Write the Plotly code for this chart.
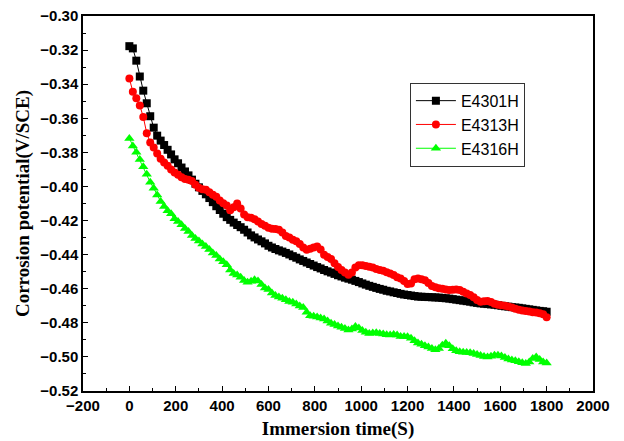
import plotly.graph_objects as go

time_s = [i * 15 for i in range(121)]

e4301h = [
-0.3177,-0.3190,-0.3262,-0.3355,-0.3438,-0.3512,-0.3588,-0.3655,-0.3702,-0.3731,
-0.3757,-0.3785,-0.3812,-0.3841,-0.3864,-0.3889,-0.3912,-0.3935,-0.3960,-0.3984,
-0.4005,-0.4026,-0.4046,-0.4068,-0.4092,-0.4116,-0.4138,-0.4160,-0.4180,-0.4196,
-0.4212,-0.4226,-0.4239,-0.4254,-0.4270,-0.4287,-0.4299,-0.4311,-0.4322,-0.4334,
-0.4348,-0.4358,-0.4367,-0.4375,-0.4382,-0.4390,-0.4399,-0.4409,-0.4418,-0.4428,
-0.4437,-0.4446,-0.4455,-0.4464,-0.4473,-0.4481,-0.4490,-0.4498,-0.4505,-0.4513,
-0.4521,-0.4528,-0.4535,-0.4541,-0.4547,-0.4554,-0.4561,-0.4569,-0.4576,-0.4583,
-0.4589,-0.4595,-0.4601,-0.4606,-0.4612,-0.4616,-0.4621,-0.4625,-0.4630,-0.4634,
-0.4637,-0.4640,-0.4643,-0.4646,-0.4647,-0.4648,-0.4649,-0.4650,-0.4651,-0.4652,
-0.4654,-0.4656,-0.4658,-0.4661,-0.4664,-0.4667,-0.4670,-0.4673,-0.4676,-0.4680,
-0.4683,-0.4686,-0.4688,-0.4690,-0.4692,-0.4694,-0.4697,-0.4700,-0.4703,-0.4705,
-0.4708,-0.4710,-0.4712,-0.4715,-0.4718,-0.4721,-0.4724,-0.4727,-0.4730,-0.4732,
-0.4735]

e4313h = [
-0.3366,-0.3445,-0.3482,-0.3525,-0.3592,-0.3688,-0.3742,-0.3772,-0.3806,-0.3838,
-0.3860,-0.3878,-0.3900,-0.3918,-0.3932,-0.3946,-0.3956,-0.3960,-0.3968,-0.3990,
-0.4008,-0.4016,-0.4020,-0.4034,-0.4048,-0.4060,-0.4082,-0.4098,-0.4112,-0.4140,
-0.4122,-0.4100,-0.4130,-0.4165,-0.4180,-0.4184,-0.4192,-0.4205,-0.4220,-0.4230,
-0.4242,-0.4248,-0.4250,-0.4254,-0.4270,-0.4290,-0.4300,-0.4312,-0.4322,-0.4338,
-0.4358,-0.4372,-0.4366,-0.4358,-0.4352,-0.4370,-0.4400,-0.4414,-0.4426,-0.4450,
-0.4472,-0.4490,-0.4505,-0.4518,-0.4505,-0.4475,-0.4462,-0.4462,-0.4466,-0.4471,
-0.4476,-0.4484,-0.4490,-0.4495,-0.4503,-0.4510,-0.4520,-0.4532,-0.4540,-0.4555,
-0.4572,-0.4570,-0.4545,-0.4540,-0.4544,-0.4550,-0.4566,-0.4584,-0.4592,-0.4597,
-0.4600,-0.4604,-0.4607,-0.4606,-0.4604,-0.4608,-0.4618,-0.4628,-0.4637,-0.4650,
-0.4666,-0.4676,-0.4674,-0.4672,-0.4678,-0.4688,-0.4694,-0.4697,-0.4700,-0.4704,
-0.4710,-0.4717,-0.4724,-0.4727,-0.4730,-0.4734,-0.4738,-0.4740,-0.4744,-0.4750,
-0.4768]

e4316h = [
-0.3718,-0.3762,-0.3800,-0.3842,-0.3885,-0.3928,-0.3975,-0.4010,-0.4050,-0.4088,
-0.4118,-0.4142,-0.4160,-0.4190,-0.4205,-0.4225,-0.4246,-0.4264,-0.4288,-0.4305,
-0.4320,-0.4338,-0.4352,-0.4370,-0.4390,-0.4405,-0.4425,-0.4442,-0.4460,-0.4490,
-0.4510,-0.4520,-0.4532,-0.4552,-0.4562,-0.4556,-0.4548,-0.4555,-0.4575,-0.4595,
-0.4605,-0.4625,-0.4640,-0.4648,-0.4656,-0.4665,-0.4675,-0.4680,-0.4690,-0.4702,
-0.4710,-0.4738,-0.4758,-0.4762,-0.4766,-0.4772,-0.4778,-0.4790,-0.4803,-0.4810,
-0.4818,-0.4826,-0.4834,-0.4842,-0.4836,-0.4822,-0.4830,-0.4845,-0.4856,-0.4862,
-0.4860,-0.4858,-0.4862,-0.4866,-0.4870,-0.4872,-0.4868,-0.4872,-0.4880,-0.4880,
-0.4882,-0.4890,-0.4905,-0.4918,-0.4926,-0.4934,-0.4942,-0.4950,-0.4958,-0.4950,
-0.4932,-0.4920,-0.4935,-0.4952,-0.4964,-0.4970,-0.4972,-0.4974,-0.4976,-0.4980,
-0.4986,-0.4992,-0.4998,-0.5000,-0.4996,-0.4990,-0.4990,-0.4995,-0.5004,-0.5012,
-0.5018,-0.5022,-0.5028,-0.5034,-0.5038,-0.5030,-0.5010,-0.5000,-0.5015,-0.5030,
-0.5036]

series = [
    ("E4301H", e4301h, "#000000", "square", 8),
    ("E4313H", e4313h, "#ff0000", "circle", 8),
    ("E4316H", e4316h, "#00ff00", "triangle-up", 9),
]

fig = go.Figure()
for name, vals, color, sym, size in series:
    fig.add_trace(go.Scatter(
        x=time_s, y=vals, name=name, mode="lines+markers",
        line=dict(color=color, width=1),
        marker=dict(symbol=sym, size=size, color=color, line=dict(width=0)),
    ))

axis_common = dict(
    showline=True, linecolor="black", linewidth=1.5, mirror=True,
    ticks="inside", ticklen=5, tickwidth=1.2, tickcolor="black",
    showgrid=False, zeroline=False, automargin=False,
    tickfont=dict(family="Liberation Sans, Arial", size=15, color="black", weight="bold"),
)

fig.update_layout(
    width=624, height=441,
    margin=dict(l=83, r=31, t=16, b=50),
    paper_bgcolor="white", plot_bgcolor="white",
    showlegend=True,
    legend=dict(
        x=0.641, y=0.822, xanchor="left", yanchor="top",
        bordercolor="#333333", borderwidth=1, bgcolor="white",
        font=dict(family="Liberation Sans, Arial", size=16, color="black"),
        itemwidth=40, tracegroupgap=0,
    ),
    xaxis=dict(
        range=[-200, 2000], dtick=200, tick0=0,
        minor=dict(dtick=100, ticks="inside", ticklen=3, tickcolor="black"),
        title=dict(text="Immersion time(S)", standoff=9,
                   font=dict(family="Liberation Serif, Times New Roman", size=19, color="black", weight="bold")),
        **axis_common,
    ),
    yaxis=dict(
        range=[-0.52, -0.30], dtick=0.02, tick0=-0.52, tickformat=".2f",
        minor=dict(dtick=0.01, ticks="inside", ticklen=3, tickcolor="black"),
        title=dict(text="Corrosion potential(V/SCE)", standoff=6,
                   font=dict(family="Liberation Serif, Times New Roman", size=19, color="black", weight="bold")),
        **axis_common,
    ),
)

fig.write_html("out.html", config={"displayModeBar": False},
               post_script="document.body.style.margin='0px';")
